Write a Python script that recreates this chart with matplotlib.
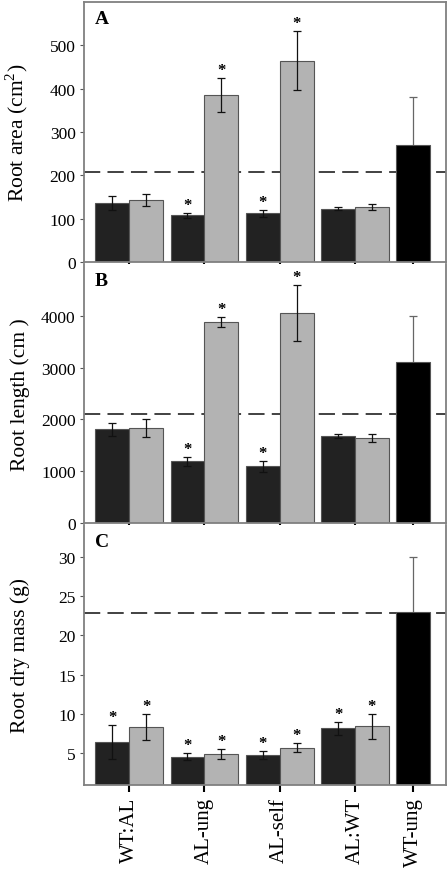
import matplotlib.pyplot as plt
import numpy as np

plt.rcParams['font.family'] = ['Liberation Serif', 'DejaVu Serif']
plt.rcParams['mathtext.fontset'] = 'custom'
plt.rcParams['mathtext.rm'] = 'Liberation Serif'

groups = ['WT:AL', 'AL-ung', 'AL-self', 'AL:WT', 'WT-ung']

# panel A - root area (cm2)
area_dark = [136, 108, 113, 123, 271]
area_dark_err = [17, 6, 8, 4, 109]
area_light = [143, 386, 465, 127]
area_light_err = [14, 39, 69, 8]
area_dark_sig = [False, True, True, False, False]
area_light_sig = [False, True, True, False]
area_ref = 208

# panel B - root length (cm)
len_dark = [1810, 1190, 1095, 1683, 3104]
len_dark_err = [130, 85, 105, 40, 885]
len_light = [1835, 3880, 4055, 1640]
len_light_err = [175, 95, 540, 70]
len_dark_sig = [False, True, True, False, False]
len_light_sig = [False, True, True, False]
len_ref = 2110

# panel C - root dry mass (g)
mass_dark = [6.5, 4.6, 4.8, 8.2, 23.0]
mass_dark_err = [2.15, 0.43, 0.5, 0.8, 6.9]
mass_light = [8.35, 4.95, 5.75, 8.45]
mass_light_err = [1.7, 0.6, 0.6, 1.55]
mass_dark_sig = [True, True, True, True, False]
mass_light_sig = [True, True, True, True]
mass_ref = 22.8

panels = [
    ('A', 'Root area (cm$^\\mathregular{2}$)', area_dark, area_dark_err, area_light, area_light_err,
     area_dark_sig, area_light_sig, area_ref, (0, 600), [0, 100, 200, 300, 400, 500]),
    ('B', 'Root length (cm )', len_dark, len_dark_err, len_light, len_light_err,
     len_dark_sig, len_light_sig, len_ref, (0, 5000), [0, 1000, 2000, 3000, 4000]),
    ('C', 'Root dry mass (g)', mass_dark, mass_dark_err, mass_light, mass_light_err,
     mass_dark_sig, mass_light_sig, mass_ref, (1, 34), [5, 10, 15, 20, 25, 30]),
]

fig = plt.figure(figsize=(4.48, 8.79), dpi=100)
W, H = 448.0, 879.0
boxes = [(3, 263), (265, 524), (526, 786)]
left, right = 84, 446

w = 0.45
xd = np.arange(5) - w / 2
xd[4] = 4 - w / 2
xl = np.arange(4) + w / 2
spine_col = '#808080'

for k, (lab, ylab, dv, de, lv, le, ds, ls, ref, ylim, yt) in enumerate(panels):
    top, bot = boxes[k]
    ax = fig.add_axes([left / W, 1 - bot / H, (right - left) / W, (bot - top) / H])

    ax.axhline(ref, color='#333333', lw=1.3, linestyle=(0, (9, 4)), zorder=1)

    ax.bar(xd[:4], dv[:4], w, color='#222222', edgecolor='#555555', lw=0.8, zorder=2)
    ax.bar(xl, lv, w, color='#b3b3b3', edgecolor='#555555', lw=0.8, zorder=2)
    ax.errorbar(xd[:4], dv[:4], yerr=de[:4], fmt='none', ecolor='#111111',
                elinewidth=0.9, capsize=3, capthick=0.9, zorder=3)
    ax.errorbar(xl, lv, yerr=le, fmt='none', ecolor='#111111',
                elinewidth=0.9, capsize=3, capthick=0.9, zorder=3)
    # WT-ung: error bar drawn behind the black bar
    ax.errorbar([xd[4]], [dv[4]], yerr=[de[4]], fmt='none', ecolor='#666666',
                elinewidth=0.9, capsize=3, capthick=0.9, zorder=1.5)
    ax.bar([xd[4]], [dv[4]], w, color='#000000', edgecolor='#555555', lw=0.8, zorder=2)

    for x, v, e, s in list(zip(xd, dv, de, ds)) + list(zip(xl, lv, le, ls)):
        if s:
            ax.annotate('*', (x, v + e), xytext=(0, 0), textcoords='offset points',
                        ha='center', va='bottom', fontsize=12, fontweight='bold')

    ax.set_xlim(-0.6, 4.21)
    ax.set_ylim(*ylim)
    ax.set_yticks(yt)
    ax.tick_params(axis='y', labelsize=12.5, length=3, color='#555555', pad=3)
    ax.set_xticks([0, 1, 2, 3, xd[4]])
    ax.tick_params(axis='x', length=5, width=1.5, color='black', direction='out')
    if k == 2:
        ax.set_xticklabels(groups, rotation=90, fontsize=15)
    else:
        ax.set_xticklabels([])
    ax.set_ylabel(ylab, fontsize=15.5)
    ax.yaxis.set_label_coords(-0.15, 0.5)
    ax.text(0.03, 0.97, lab, transform=ax.transAxes, ha='left', va='top',
            fontsize=14, fontweight='bold')

    for sp in ax.spines.values():
        sp.set_color(spine_col)
        sp.set_linewidth(1.3)
    if k > 0:
        ax.spines['top'].set_visible(False)

fig.savefig('out.png', dpi=100)
